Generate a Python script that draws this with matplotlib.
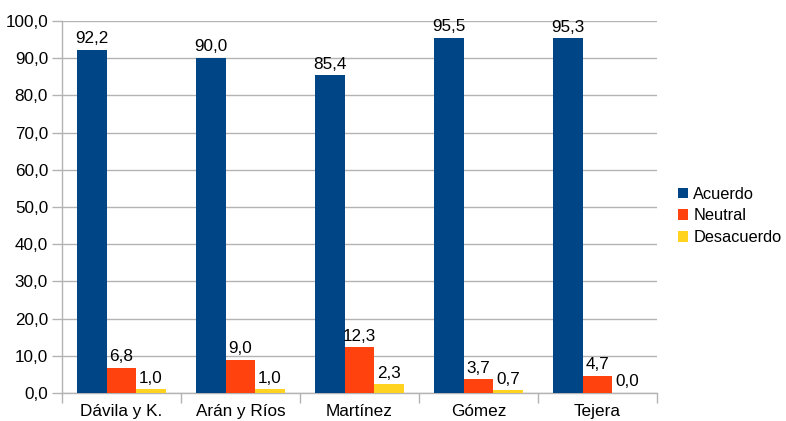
import numpy as np
import matplotlib.pyplot as plt
from matplotlib.ticker import FixedLocator, NullFormatter

# ========== DATA ==========
autores = ["Dávila y K.", "Arán y Ríos", "Martínez", "Gómez", "Tejera"]
acuerdo = [92.2, 90.0, 85.4, 95.5, 95.3]
neutral = [6.8, 9.0, 12.3, 3.7, 4.7]
desacuerdo = [1.0, 1.0, 2.3, 0.7, 0.0]
series = [("Acuerdo", acuerdo, "#004586"),
          ("Neutral", neutral, "#ff420e"),
          ("Desacuerdo", desacuerdo, "#ffd320")]

plt.rcParams['font.family'] = ['Liberation Sans', 'DejaVu Sans']
fs = 12.3

fig = plt.figure(figsize=(7.86, 4.21), dpi=100)
ax = fig.add_axes([62/786, 1 - 393/421, 595/786, 372/421])

x = np.arange(len(autores))
w = 0.248
for i, (name, vals, col) in enumerate(series):
    pos = x + (i - 1) * w
    ax.bar(pos, vals, width=w, color=col, label=name, zorder=3)
    for px, v in zip(pos, vals):
        ax.text(px, v + 1.0, f"{v:.1f}".replace(".", ","), ha="center",
                va="bottom", fontsize=fs, color="black", zorder=4)

ax.set_xlim(-0.5, len(autores) - 0.5)
ax.set_ylim(0, 100)
ax.set_yticks(np.arange(0, 101, 10))
ax.set_yticklabels([f"{v:.1f}".replace(".", ",") for v in np.arange(0, 101, 10)])
ax.yaxis.grid(True, color="#b3b3b3", linewidth=1, zorder=0)

# category labels between boundary ticks
ax.set_xticks(x)
ax.set_xticklabels(autores)
ax.tick_params(axis="x", which="major", length=0, pad=8, labelsize=fs)
ax.xaxis.set_minor_locator(FixedLocator(np.arange(-0.5, len(autores), 1)))
ax.xaxis.set_minor_formatter(NullFormatter())
ax.tick_params(axis="x", which="minor", length=7, color="#b3b3b3", width=1)
ax.tick_params(axis="y", length=7, color="#b3b3b3", width=1, labelsize=fs, pad=3)

for s in ["top", "right"]:
    ax.spines[s].set_visible(False)
for s in ["left", "bottom"]:
    ax.spines[s].set_color("#b3b3b3")
    ax.spines[s].set_linewidth(1)

ax.legend(loc="center left", bbox_to_anchor=(1.036, 0.476), frameon=False,
          fontsize=11.8, handlelength=0.6, handleheight=0.6, handletextpad=0.3,
          labelspacing=0.42, borderpad=0, borderaxespad=0)

fig.savefig("out.png", dpi=100)
